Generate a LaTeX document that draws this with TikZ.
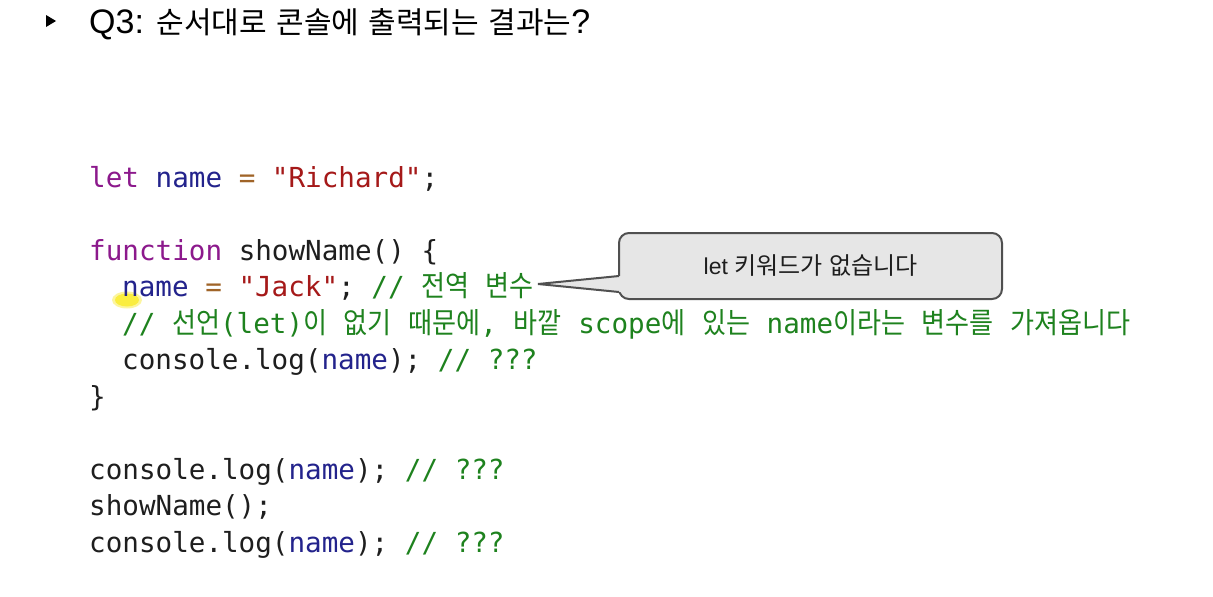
\documentclass[tikz,border=0pt]{standalone}
\usepackage{fontspec}
\setmainfont{Liberation Sans}
\newfontfamily\codefont{DejaVu Sans Mono}
\newfontfamily\krfont{Noto Sans CJK KR}
\newfontfamily\krcode{Noto Sans CJK KR}[FakeStretch=0.9]
\definecolor{kw}{RGB}{140,25,140}
\definecolor{nm}{RGB}{35,35,140}
\definecolor{op}{RGB}{160,100,40}
\definecolor{st}{RGB}{165,25,25}
\definecolor{cm}{RGB}{30,130,30}
\definecolor{tx}{RGB}{30,30,30}
\definecolor{boxfill}{RGB}{230,230,230}
\definecolor{boxline}{RGB}{80,80,80}
\definecolor{hilite}{RGB}{250,235,40}
\newcommand\hk[1]{{\krcode\fontsize{29}{33}\selectfont #1}}
\newcommand\hkt[1]{{\krfont\fontsize{30}{36}\selectfont #1}}
\newcommand\hkc[1]{{\krfont\fontsize{24}{28}\selectfont #1}}
\tikzset{
  codeline/.style={anchor=base west, inner sep=0pt, text=tx,
    font=\codefont\fontsize{27.6}{32}\selectfont},
  titletext/.style={anchor=base west, inner sep=0pt, text=black,
    font=\fontsize{34}{40}\selectfont},
  calloutbox/.style={draw=boxline, fill=boxfill, line width=2pt,
    rounded corners=10pt, minimum width=383pt, minimum height=66pt,
    inner sep=0pt, text=tx, font=\fontsize{23}{28}\selectfont},
}
\begin{document}
\begin{tikzpicture}[x=1pt,y=-1pt]
\useasboundingbox (0,0) rectangle (1213,597);
\fill[white] (0,0) rectangle (1213,597);
% title
\fill[black] (46,15) -- (46,27) -- (56,21) -- cycle;
\node[titletext] (title) at (89,34) {Q3: \hkt{순서대로} \hkt{콘솔에} \hkt{출력되는} \hkt{결과는}?};
% highlight
\fill[hilite, opacity=0.45] (127,300) ellipse (15 and 8.5);
\fill[hilite, opacity=0.8] (127,300) ellipse (12 and 6.5);
% code
\node[codeline] (l1) at (89,187) {\textcolor{kw}{let} \textcolor{nm}{name} \textcolor{op}{=} \textcolor{st}{"Richard"};};
\node[codeline] (l3) at (89,260) {\textcolor{kw}{function} showName() \{};
\node[codeline] (l4) at (122,296.5) {\textcolor{nm}{name} \textcolor{op}{=} \textcolor{st}{"Jack"}; \textcolor{cm}{// \hk{전역} \hk{변수}}};
\node[codeline] (l5) at (122,333) {\textcolor{cm}{// \hk{선언}(let)\hk{이} \hk{없기} \hk{때문에}, \hk{바깥} scope\hk{에} \hk{있는} name\hk{이라는} \hk{변수를} \hk{가져옵니다}}};
\node[codeline] (l6) at (122,369.5) {console.log(\textcolor{nm}{name}); \textcolor{cm}{// ???}};
\node[codeline] (l7) at (89,406) {\}};
\node[codeline] (l9) at (89,479) {console.log(\textcolor{nm}{name}); \textcolor{cm}{// ???}};
\node[codeline] (l10) at (89,515.5) {showName();};
\node[codeline] (l11) at (89,552) {console.log(\textcolor{nm}{name}); \textcolor{cm}{// ???}};
% callout
\node[calloutbox] (cb) at (810.5,266) {let \hkc{키워드가} \hkc{없습니다}};
\coordinate (tip) at (538,284);
\coordinate (pu) at (619,276);
\coordinate (pl) at (619,292);
\fill[boxfill] ([xshift=2pt]pu) -- (tip) -- ([xshift=2pt]pl) -- cycle;
\draw[boxline, line width=2pt, line join=miter] (pu) -- (tip) -- (pl);
\end{tikzpicture}
\end{document}
